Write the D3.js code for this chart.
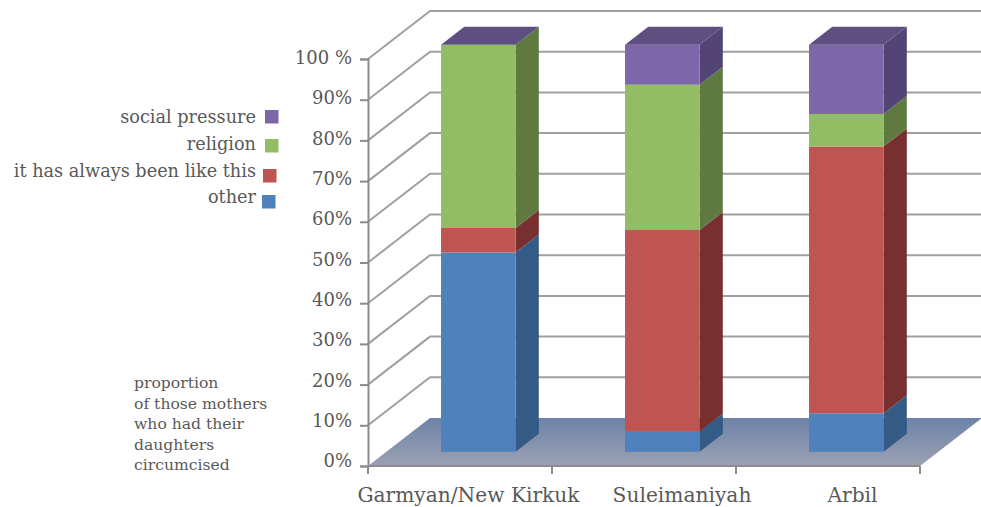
<!DOCTYPE html>
<html>
<head>
<meta charset="utf-8">
<script src="https://cdn.jsdelivr.net/npm/d3@7"></script>
<style>
  html, body { margin: 0; padding: 0; background: #fff; }
  text { font-family: "DejaVu Serif", serif; fill: #595959; }
</style>
</head>
<body>
<div id="chart"></div>
<script>
var width = 981, height = 507;

// values, percent of mothers, stacked bottom to top
var categories = ["Garmyan/New Kirkuk", "Suleimaniyah", "Arbil"];
var seriesNames = ["other", "it has always been like this", "religion", "social pressure"];
var other = [49, 5, 9.5];
var always = [6, 49.5, 65.5];
var religion = [45, 35.7, 8];
var social = [0, 9.8, 17];
var tickValues = [0, 10, 20, 30, 40, 50, 60, 70, 80, 90, 100];
var tickLabels = ["0%", "10%", "20%", "30%", "40%", "50%", "60%", "70%", "80%", "90%", "100 %"];

var frontColor = ["#4f81bd", "#be5552", "#93bd65", "#7d67a8"];
var sideColor = ["#345b85", "#77302f", "#5e7a40", "#534476"];
var topColor = ["#3f6a9b", "#8a3b39", "#6f9049", "#5f4e80"];

// the chart is a flat oblique projection: depth slides things up and to the right
var wallDx = 62, wallDy = 48;
var barNear = 0.295, barFar = 0.67;
var x0 = 368, x1 = 920;

var x = d3.scaleBand().domain(categories).range([x0, x1]).paddingInner(0.595).paddingOuter(0.2975);
var y = d3.scaleLinear().domain([0, 100]).range([466, 59]);
var labelY = d3.scaleLinear().domain([0, 100]).range([461, 58]);

function px(v, depth) { return v + depth * wallDx; }
function py(v, depth) { return y(v) - depth * wallDy; }

var svg = d3.select("#chart")
    .append("svg")
    .attr("width", width)
    .attr("height", height)
    .style("display", "block");

var defs = svg.append("defs");
var floorGrad = defs.append("linearGradient")
    .attr("id", "floorGrad")
    .attr("x1", 0).attr("y1", 0).attr("x2", 0).attr("y2", 1);
floorGrad.append("stop").attr("offset", "0%").attr("stop-color", "#6e83a8");
floorGrad.append("stop").attr("offset", "100%").attr("stop-color", "#9ba1b2");

// gridlines: along the side wall, then across the back wall
svg.append("g")
    .selectAll("path")
    .data(tickValues.slice(1))
    .enter()
    .append("path")
    .attr("d", function (d) {
        return "M" + x0 + "," + py(d, 0) + "L" + px(x0, 1) + "," + py(d, 1) + "L" + width + "," + py(d, 1);
    })
    .attr("fill", "none")
    .attr("stroke", "#a0a0a0")
    .attr("stroke-width", 2);

// floor
var line = d3.line();
svg.append("path")
    .attr("d", line([[x0, py(0, 0)], [px(x0, 1), py(0, 1)], [px(x1, 1), py(0, 1)], [x1, py(0, 0)]]) + "Z")
    .attr("fill", "url(#floorGrad)");

// axes
var yAxis = svg.append("g")
    .attr("transform", "translate(" + x0 + ",0)")
    .call(d3.axisLeft(y).tickValues(tickValues).tickSize(8).tickFormat(""));
yAxis.selectAll("line").attr("stroke", "#8c8c8c").attr("stroke-width", 2);
yAxis.select(".domain").attr("stroke", "#8c8c8c").attr("stroke-width", 2);

svg.append("g")
    .selectAll("text")
    .data(tickValues)
    .enter()
    .append("text")
    .attr("x", 352)
    .attr("y", function (d) { return labelY(d); })
    .attr("dy", "0.34em")
    .attr("text-anchor", "end")
    .style("font-size", "18px")
    .text(function (d, i) { return tickLabels[i]; });

var xBoundaries = [0, 1, 2, 3];
var xStep = x.step();
svg.append("line")
    .attr("x1", x0).attr("x2", x1).attr("y1", y(0)).attr("y2", y(0))
    .attr("stroke", "#8c8c8c").attr("stroke-width", 2);
svg.append("g")
    .selectAll("line")
    .data(xBoundaries)
    .enter()
    .append("line")
    .attr("x1", function (d) { return x0 + d * xStep; })
    .attr("x2", function (d) { return x0 + d * xStep; })
    .attr("y1", y(0))
    .attr("y2", y(0) + 8)
    .attr("stroke", "#8c8c8c")
    .attr("stroke-width", 2);

// the category labels sit unevenly under their bars
var labelShift = [8.5, 38, 24.5];
svg.append("g")
    .selectAll("text")
    .data(categories)
    .enter()
    .append("text")
    .attr("x", function (d, i) { return x(d) + x.bandwidth() / 2 + labelShift[i]; })
    .attr("y", 502)
    .attr("text-anchor", "middle")
    .style("font-size", "20.2px")
    .text(function (d) { return d; });

// stacked bars, front face plus side and top faces
var rows = categories.map(function (c, i) {
    return { category: c, other: other[i], always: always[i], religion: religion[i], social: social[i] };
});
var stack = d3.stack().keys(["other", "always", "religion", "social"])(rows);

var series = svg.selectAll("g.series")
    .data(stack)
    .enter()
    .append("g")
    .attr("class", "series");

series.each(function (s, si) {
    var g = d3.select(this);
    s.forEach(function (d) {
        var left = x(d.data.category), right = left + x.bandwidth();
        var lo = d[0], hi = d[1];
        if (hi > lo) {
            g.append("path")
                .attr("d", line([[px(right, barNear), py(lo, barNear)], [px(right, barFar), py(lo, barFar)],
                    [px(right, barFar), py(hi, barFar)], [px(right, barNear), py(hi, barNear)]]) + "Z")
                .attr("fill", sideColor[si]);
            g.append("path")
                .attr("d", line([[px(left, barNear), py(lo, barNear)], [px(right, barNear), py(lo, barNear)],
                    [px(right, barNear), py(hi, barNear)], [px(left, barNear), py(hi, barNear)]]) + "Z")
                .attr("fill", frontColor[si]);
        }
        // only the uppermost band shows a lid, even when it has no height
        if (si === stack.length - 1) {
            g.append("path")
                .attr("d", line([[px(left, barNear), py(hi, barNear)], [px(right, barNear), py(hi, barNear)],
                    [px(right, barFar), py(hi, barFar)], [px(left, barFar), py(hi, barFar)]]) + "Z")
                .attr("fill", topColor[si]);
        }
    });
});

// legend, top entry first; the swatches drift left going down
var legendTextY = [117, 144, 171, 197];
var legendBoxX = [265, 265, 263, 262];
var legendBoxY = [110, 139, 169, 195];
var legendOrder = [3, 2, 1, 0];
var legend = svg.append("g");
legendOrder.forEach(function (si, i) {
    legend.append("text")
        .attr("x", 256)
        .attr("y", legendTextY[i])
        .attr("dy", "0.34em")
        .attr("text-anchor", "end")
        .style("font-size", "17.7px")
        .text(seriesNames[si]);
    legend.append("rect")
        .attr("x", legendBoxX[i])
        .attr("y", legendBoxY[i])
        .attr("width", 13.5)
        .attr("height", 13.5)
        .attr("fill", frontColor[si]);
});

// note beside the axis
var noteLines = ["proportion", "of those mothers", "who had their", "daughters", "circumcised"];
var noteY = [388, 409, 429, 450, 470];
svg.append("g")
    .selectAll("text")
    .data(noteLines)
    .enter()
    .append("text")
    .attr("x", 134)
    .attr("y", function (d, i) { return noteY[i]; })
    .style("font-size", "15.6px")
    .text(function (d) { return d; });
</script>
</body>
</html>
